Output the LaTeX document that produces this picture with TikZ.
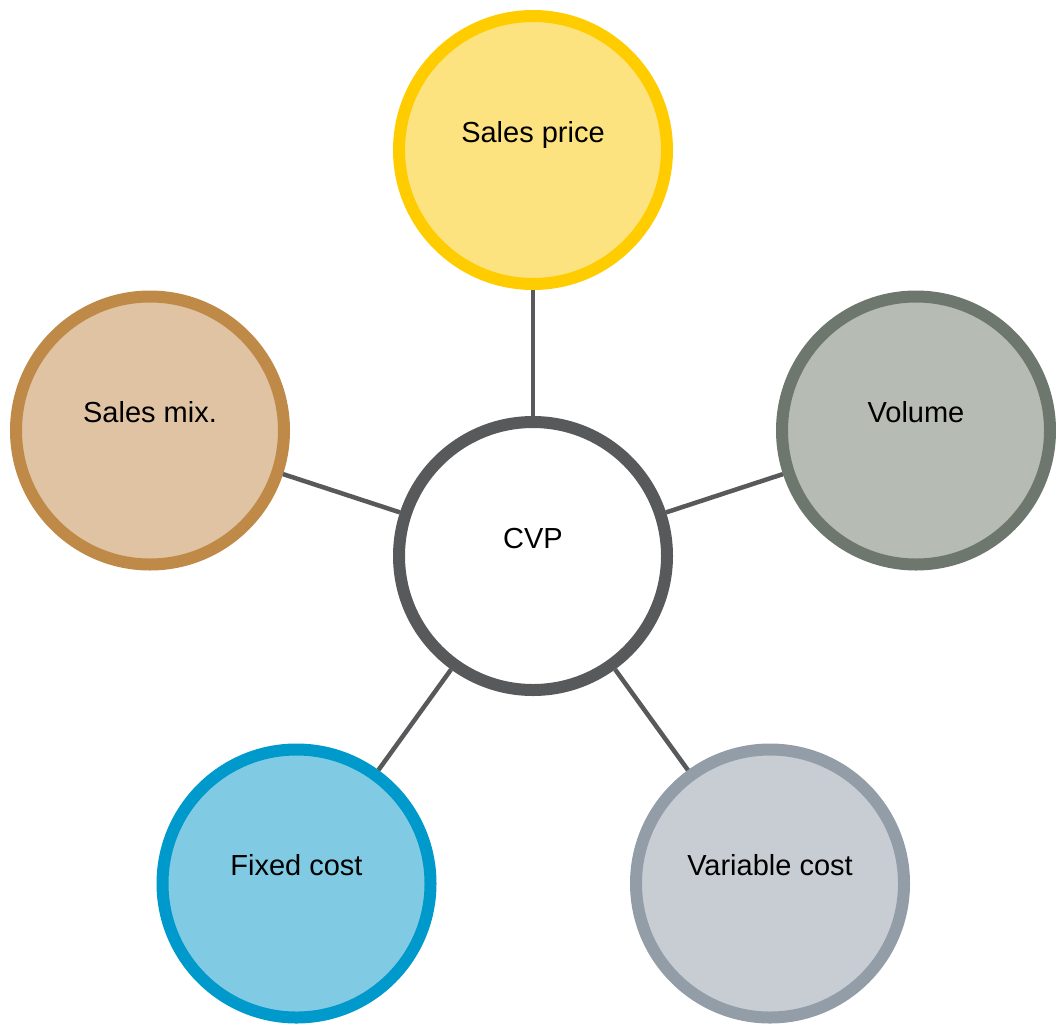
\documentclass[tikz,border=0pt]{standalone}
\usepackage{fontspec}
\setmainfont{Liberation Sans}
\definecolor{hubgray}{HTML}{58595B}
\definecolor{spfill}{HTML}{FDE37F}
\definecolor{spline}{HTML}{FFCC00}
\definecolor{smfill}{HTML}{DFC3A3}
\definecolor{smline}{HTML}{BF8A48}
\definecolor{vofill}{HTML}{B6BBB4}
\definecolor{voline}{HTML}{6D776D}
\definecolor{fcfill}{HTML}{80CBE3}
\definecolor{fcline}{HTML}{0099CC}
\definecolor{vcfill}{HTML}{C8CDD4}
\definecolor{vcline}{HTML}{939DA7}
\tikzset{
  bubble/.style={circle, minimum size=268pt, inner sep=0pt, line width=12pt},
  lbl/.style={anchor=base, font=\fontsize{29}{34}\selectfont, text=black, inner sep=0pt},
  spoke/.style={draw=hubgray, line width=4.5pt}
}
\begin{document}
\begin{tikzpicture}[x=1pt,y=-1pt]
\useasboundingbox (0,0) rectangle (1056,1025);
\node[bubble, draw=hubgray, fill=white] (cvp) at (533,556) {};
\node[bubble, draw=spline, fill=spfill] (sp) at (533,150) {};
\node[bubble, draw=voline, fill=vofill] (vo) at (916,430.5) {};
\node[bubble, draw=smline, fill=smfill] (sm) at (150,430.5) {};
\node[bubble, draw=fcline, fill=fcfill] (fc) at (296.5,883.5) {};
\node[bubble, draw=vcline, fill=vcfill] (vc) at (770,883.5) {};
\draw[spoke] (cvp) -- (sp);
\draw[spoke] (cvp) -- (vo);
\draw[spoke] (cvp) -- (sm);
\draw[spoke] (cvp) -- (fc);
\draw[spoke] (cvp) -- (vc);
\node[lbl] (tcvp) at ([yshift=8pt]cvp.center) {CVP};
\node[lbl] (tsp) at ([yshift=8pt]sp.center) {Sales price};
\node[lbl] (tvo) at ([yshift=8pt]vo.center) {Volume};
\node[lbl] (tsm) at ([yshift=8pt]sm.center) {Sales mix.};
\node[lbl] (tfc) at ([yshift=8pt]fc.center) {Fixed cost};
\node[lbl] (tvc) at ([yshift=8pt]vc.center) {Variable cost};
\end{tikzpicture}
\end{document}
